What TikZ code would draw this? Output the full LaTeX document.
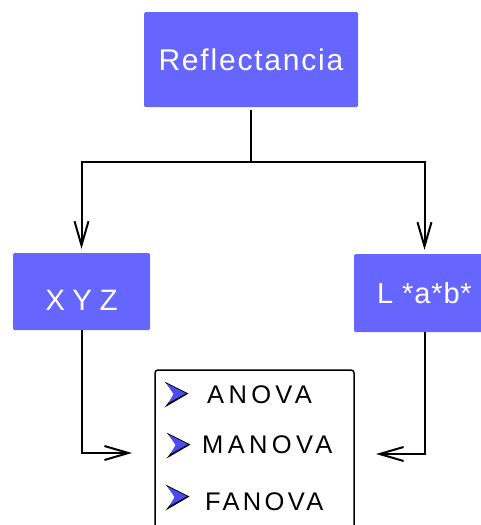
\documentclass[tikz,border=0pt]{standalone}
\usepackage{fontspec}
\setmainfont{Liberation Sans}
\usetikzlibrary{arrows.meta}
\definecolor{boxblue}{HTML}{6666FF}
\definecolor{bulletblue}{HTML}{4B4BF0}

\begin{document}
\begin{tikzpicture}[x=1pt,y=-1pt,
  bluebox/.style={draw=none, fill=boxblue, rounded corners=1.5pt, text=white,
    inner sep=0pt, text depth=0pt},
  conn/.style={line width=2pt},
  arr/.style={conn, shorten >=4pt, -{Straight Barb[length=24pt,width=14pt]}},
  item/.style={anchor=base west, inner sep=0pt,
    font=\fontsize{25.5}{30}\selectfont\addfontfeature{LetterSpace=17}},
  headbullet/.pic={
    \fill[black] (-10.5,-12.5) -- (13.5,-0.5) -- (-10.5,13.5) -- (0,0) -- cycle;
    \fill[bulletblue] (-8.5,-10.5) -- (11,-0.7) -- (-6.5,9) -- (-1.5,0) -- cycle;
  }
]
\useasboundingbox (0,0) rectangle (481,525);

% coloured boxes
\node[bluebox, minimum width=214pt, minimum height=95pt, text height=21pt,
  font=\fontsize{30}{34}\selectfont\addfontfeature{LetterSpace=6}]
  (refl) at (251,59.5) {Reflectancia};
\node[bluebox, minimum width=137pt, minimum height=77pt, text height=38pt,
  font=\fontsize{29.5}{34}\selectfont\addfontfeature{LetterSpace=25}]
  (xyz) at (81.5,291.5) {XYZ};
\node[bluebox, minimum width=141pt, minimum height=78pt, text height=21pt,
  font=\fontsize{29}{34}\selectfont\addfontfeature{LetterSpace=3}]
  (lab) at (424.5,293) {L *a*b*};

% box of methods
\node[draw, line width=1.5pt, rounded corners=3pt, minimum width=199pt,
  minimum height=170pt, inner sep=0pt] (stats) at (254.5,455) {};
\node[item] (anova) at (207,403) {ANOVA};
\node[item] (manova) at (202,453) {MANOVA};
\node[item, font=\fontsize{25.5}{30}\selectfont\addfontfeature{LetterSpace=13}]
  (fanova) at (205,510) {FANOVA};
\pic at (175,394) {headbullet};
\pic at (177,445) {headbullet};
\pic at (176,497) {headbullet};

% connectors
\coordinate (j) at (251,162);
\coordinate (pl) at (132,453);
\coordinate (pr) at (376,454);
\draw[conn] ([yshift=-3pt]refl.south) -- (j);
\draw[arr] (j) -| (xyz.north);
\draw[arr] (j) -| (lab.north);
\draw[arr, shorten >=0pt] (xyz.south) |- (pl);
\draw[arr, shorten >=0pt] (lab.south) |- (pr);
\end{tikzpicture}
\end{document}
